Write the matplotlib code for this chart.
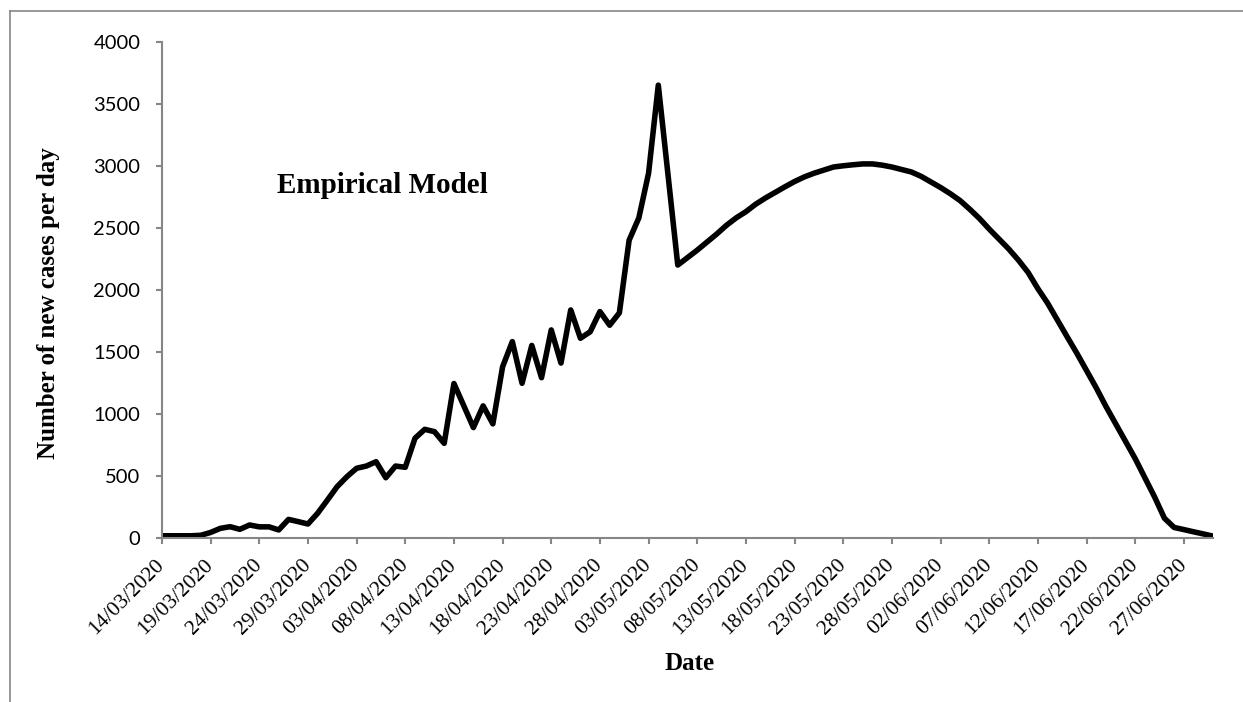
import matplotlib
matplotlib.use("Agg")
import matplotlib.pyplot as plt
from matplotlib.lines import Line2D
from matplotlib.transforms import ScaledTranslation
import pandas as pd

start_date = "2020-03-14"
# daily new cases, 14/03/2020 .. 30/06/2020
cases = [18, 18, 18, 18, 22, 45, 78, 91, 70, 105,
         90, 90, 65, 150, 132, 113, 200, 306, 414, 494,
         562, 580, 615, 486, 580, 570, 804, 876, 857, 763,
         1245, 1068, 890, 1065, 920, 1380, 1583, 1247, 1552, 1292,
         1677, 1410, 1838, 1610, 1662, 1825, 1715, 1815, 2400, 2580,
         2940, 3650, 2925, 2200, 2260, 2320, 2385, 2450, 2520, 2580,
         2630, 2690, 2740, 2785, 2830, 2873, 2910, 2940, 2965, 2990,
         3000, 3008, 3015, 3015, 3005, 2990, 2970, 2950, 2915, 2870,
         2825, 2775, 2720, 2650, 2575, 2490, 2410, 2330, 2240, 2140,
         2010, 1893, 1758, 1623, 1490, 1350, 1210, 1060, 920, 780,
         640, 485, 330, 160, 85, 68, 50, 33, 15]
dates = pd.date_range(start_date, periods=len(cases), freq="D")
tick_dates = dates[::5]
tick_labels = [d.strftime("%d/%m/%Y") for d in tick_dates]
y_ticks = [0, 500, 1000, 1500, 2000, 2500, 3000, 3500, 4000]

grey = "#868686"
serif = ["Liberation Serif", "DejaVu Serif"]

fig = plt.figure(figsize=(12.43, 7.02), dpi=100)
ax = fig.add_axes([0.1303, 0.2336, 0.8456, 0.707])

ax.plot(dates, cases, color="black", linewidth=4, solid_joinstyle="round")

ax.set_xlim(dates[0], dates[-1])
ax.set_ylim(0, 4000)
ax.set_yticks(y_ticks)
ax.set_yticklabels([str(v) for v in y_ticks], fontfamily="Lato", fontsize=14.5)
ax.set_xticks(tick_dates)
ax.set_xticklabels(tick_labels, rotation=45, ha="right", va="center",
                   rotation_mode="anchor", fontfamily=serif, fontsize=15.5)

# nudge rotated date labels to the right like the original
for lab in ax.get_xticklabels():
    lab.set_transform(lab.get_transform() + ScaledTranslation(0.17, 0, fig.dpi_scale_trans))

for s in ["top", "right"]:
    ax.spines[s].set_visible(False)
for s in ["left", "bottom"]:
    ax.spines[s].set_color(grey)
    ax.spines[s].set_linewidth(1.5)
ax.tick_params(axis="both", colors=grey, labelcolor="black", width=1.5, length=4.5, direction="out")
ax.tick_params(axis="y", pad=11)
ax.tick_params(axis="x", pad=13)

ax.set_ylabel("Number of new cases per day", fontfamily=serif, fontsize=18, fontweight="bold")
ax.yaxis.set_label_coords(-0.097, 0.474)
ax.set_xlabel("Date", fontfamily=serif, fontsize=18, fontweight="bold", va="center")
ax.xaxis.set_label_coords(0.502, -0.252)

ax.text(0.109, 0.711, "Empirical Model", transform=ax.transAxes, ha="left", va="center",
        fontfamily=serif, fontsize=21, fontweight="bold")

# outer chart-area border (left and top edges visible)
fig.add_artist(Line2D([10 / 1243, 10 / 1243], [0, 1 - 11 / 702], transform=fig.transFigure, color=grey, linewidth=1.2))
fig.add_artist(Line2D([10 / 1243, 1], [1 - 11 / 702, 1 - 11 / 702], transform=fig.transFigure, color=grey, linewidth=1.2))

fig.savefig("out.png", dpi=100)
